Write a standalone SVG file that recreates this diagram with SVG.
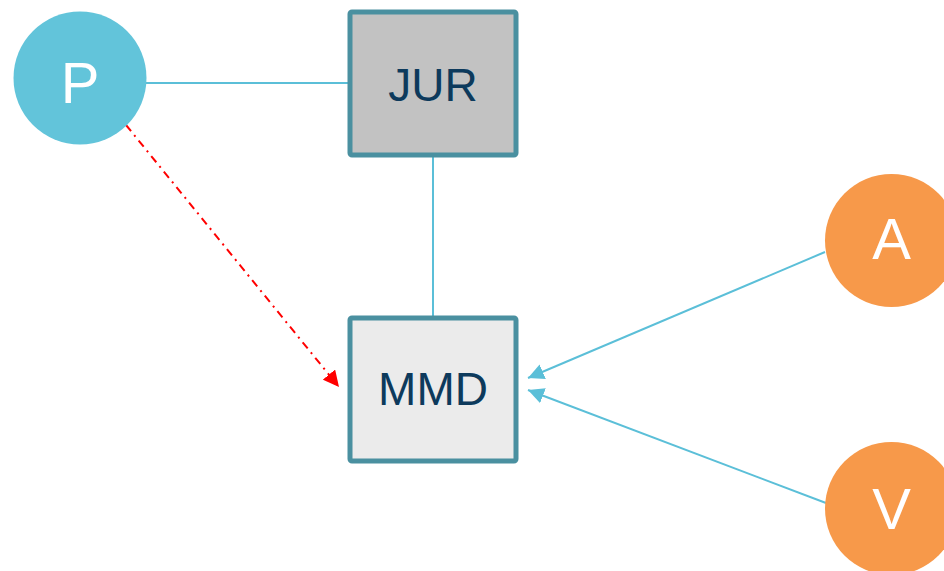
<svg xmlns="http://www.w3.org/2000/svg" width="944" height="571" viewBox="0 0 944 571">
  <style>
    .box { stroke: #4a90a0; stroke-width: 5; }
    .box-label { font-family: "Liberation Sans", Arial, sans-serif; font-size: 46px; fill: #0d3a5c; text-anchor: middle; }
    .circle-label { font-family: "Liberation Sans", Arial, sans-serif; font-size: 58px; fill: #ffffff; text-anchor: middle; }
    .link { stroke: #5bbfd8; stroke-width: 2; fill: none; }
    .dep { stroke: #ff0000; stroke-width: 2; fill: none; stroke-dasharray: 8 5 2 5; }
  </style>
  <defs>
    <marker id="arrow-blue" viewBox="0 0 10 10" refX="10" refY="5" markerWidth="16" markerHeight="16" markerUnits="userSpaceOnUse" orient="auto">
      <path d="M0,0 L10,5 L0,10 z" fill="#5bbfd8"/>
    </marker>
    <marker id="arrow-red" viewBox="0 0 10 10" refX="10" refY="5" markerWidth="16" markerHeight="16" markerUnits="userSpaceOnUse" orient="auto">
      <path d="M0,0 L10,5 L0,10 z" fill="#ff0000"/>
    </marker>
  </defs>
  <rect width="944" height="571" fill="#ffffff"/>

  <g id="connectors">
    <line class="link" x1="146" y1="83" x2="349" y2="83"/>
    <line class="link" x1="433" y1="157" x2="433" y2="316"/>
    <line class="link" x1="825" y1="252" x2="528" y2="378" marker-end="url(#arrow-blue)"/>
    <line class="link" x1="826" y1="503" x2="528" y2="390" marker-end="url(#arrow-blue)"/>
    <line class="dep" x1="126" y1="125" x2="339" y2="387" marker-end="url(#arrow-red)"/>
  </g>

  <g id="node-jur">
    <rect class="box" x="350" y="12" width="166" height="143" rx="2" fill="#c2c2c2"/>
    <text class="box-label" x="433" y="101">JUR</text>
  </g>

  <g id="node-mmd">
    <rect class="box" x="350" y="318" width="166" height="143" rx="2" fill="#ebebeb"/>
    <text class="box-label" x="433" y="405">MMD</text>
  </g>

  <g id="node-p">
    <circle cx="80" cy="78" r="66.5" fill="#62c4da"/>
    <text class="circle-label" x="80" y="103">P</text>
  </g>

  <g id="node-a">
    <circle cx="891.5" cy="240.5" r="66.5" fill="#f7994a"/>
    <text class="circle-label" x="891.5" y="259">A</text>
  </g>

  <g id="node-v">
    <circle cx="891.5" cy="508.5" r="66.5" fill="#f7994a"/>
    <text class="circle-label" x="891.5" y="529">V</text>
  </g>
</svg>
